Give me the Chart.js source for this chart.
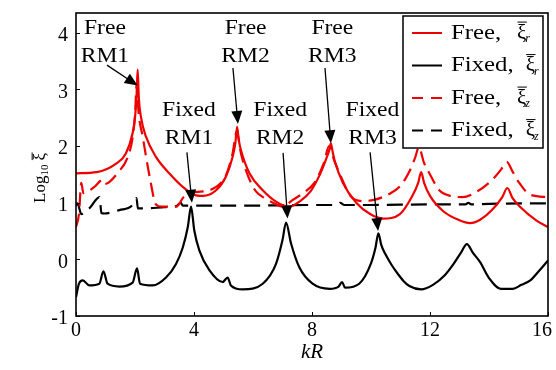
<!DOCTYPE html>
<html>
<head>
<meta charset="utf-8">
<script src="https://cdn.jsdelivr.net/npm/chart.js@4.4.1/dist/chart.umd.min.js"></script>
<style>
  html, body { margin: 0; padding: 0; background: #fff; }
  #wrap { width: 556px; height: 370px; }
</style>
</head>
<body>
<div id="wrap"><canvas id="myChart" width="556" height="370"></canvas></div>
<script>
// kR values and log10 amplitudes
var freeRx = [0, 0.7, 1.36, 1.69, 1.92, 2.0, 2.05, 2.09, 2.13, 2.2, 2.37, 2.71, 3.16, 3.62, 4.07, 4.3, 4.75, 5.08, 5.31, 5.4,
  5.46, 5.52, 5.59, 5.88, 6.33, 6.78, 7.23, 7.6, 7.95, 8.27, 8.5, 8.58, 8.64, 8.7, 8.78, 9.05, 9.5, 9.97, 10.4, 10.98,
  11.4, 11.6, 11.7, 11.8, 12.0, 12.45, 13.0, 13.35, 13.7, 14.1, 14.45, 14.62, 14.8, 15.05, 15.6, 16];
var freeRy = [1.52, 1.54, 1.69, 1.87, 2.23, 2.5, 2.85, 3.35, 2.85, 2.52, 2.17, 1.81, 1.52, 1.28, 1.13, 1.12, 1.22, 1.46, 1.81, 2.05,
  2.34, 2.1, 1.93, 1.52, 1.22, 1.02, 0.93, 1.03, 1.2, 1.5, 1.8, 1.92, 2.05, 1.9, 1.72, 1.35, 1.0, 0.8, 0.72, 0.8,
  1.12, 1.35, 1.54, 1.35, 1.12, 0.85, 0.69, 0.64, 0.7, 0.87, 1.1, 1.26, 1.08, 0.93, 0.69, 0.57];

var fixedRx = [0, 0.1, 0.23, 0.45, 0.79, 0.93, 1.07, 1.47, 1.92, 2.07, 2.17, 2.6, 3.05, 3.39, 3.62, 3.79, 3.9, 4.01, 4.18, 4.52,
  4.97, 5.14, 5.25, 5.65, 6.33, 6.78, 7.0, 7.12, 7.29, 7.57, 8.02, 8.6, 8.9, 9.02, 9.12, 9.6, 10.0, 10.15, 10.25, 10.35,
  10.5, 10.7, 10.9, 11.1, 11.3, 11.7, 12.1, 12.5, 12.8, 13.05, 13.25, 13.45, 13.7, 14.0, 14.4, 14.8, 15.1, 15.4, 15.7, 16];
var fixedRy = [-0.67, -0.43, -0.37, -0.46, -0.43, -0.21, -0.43, -0.48, -0.41, -0.16, -0.43, -0.46, -0.32, -0.08, 0.21, 0.57, 0.93, 0.51, 0.16, -0.19,
  -0.4, -0.32, -0.46, -0.53, -0.43, -0.08, 0.34, 0.65, 0.28, -0.14, -0.43, -0.52, -0.48, -0.4, -0.5, -0.43, -0.07, 0.2, 0.46, 0.25,
  0.08, -0.1, -0.25, -0.38, -0.47, -0.53, -0.45, -0.28, -0.08, 0.12, 0.27, 0.12, -0.05, -0.33, -0.52, -0.52, -0.45, -0.37, -0.2, -0.02];

var freeZx = [0, 0.1, 0.18, 0.25, 0.6, 0.9, 0.97, 1.45, 1.75, 1.92, 2.0, 2.06, 2.12, 2.26, 2.5, 2.71, 2.9, 3.4, 3.65, 3.9,
  4.3, 4.75, 5.08, 5.3, 5.45, 5.6, 5.85, 6.1, 6.4, 6.75, 7.0, 7.35, 7.7, 8.08, 8.4, 8.58, 8.75, 8.95, 9.3, 9.7,
  10.1, 10.6, 11.0, 11.3, 11.5, 11.62, 11.8, 12.0, 12.3, 12.7, 13.1, 13.6, 14.1, 14.4, 14.6, 14.8, 15.0, 15.4, 16];
var freeZy = [0.57, 0.8, 1.35, 1.17, 1.27, 1.4, 1.33, 1.55, 1.8, 2.15, 2.55, 3.1, 2.6, 2.17, 1.45, 0.97, 0.93, 0.93, 1.1, 1.18,
  1.2, 1.28, 1.48, 1.85, 2.25, 1.85, 1.45, 1.2, 1.08, 0.98, 0.93, 1.05, 1.17, 1.35, 1.7, 2.0, 1.75, 1.5, 1.12, 1.03,
  1.05, 1.15, 1.3, 1.55, 1.8, 1.98, 1.7, 1.5, 1.23, 1.12, 1.1, 1.2, 1.4, 1.58, 1.72, 1.55, 1.37, 1.14, 1.1];

var fixedZx = [0, 0.05, 0.18, 0.45, 0.8, 0.86, 0.96, 1.47, 1.9, 2.05, 2.1, 2.3, 3.0, 3.4, 3.55, 3.62, 4.0, 6.0, 8.0, 8.85,
  8.95, 9.1, 10.0, 12.0, 13.2, 13.3, 13.4, 14.0, 16];
var fixedZy = [0.95, 0.99, 0.8, 0.9, 1.1, 0.82, 0.81, 0.87, 0.95, 1.08, 0.9, 0.9, 0.92, 0.94, 1.0, 0.95, 0.95, 0.95, 0.96, 0.96,
  1.0, 0.96, 0.96, 0.97, 0.97, 1.0, 0.97, 0.98, 0.99];

var xTicks = [0, 4, 8, 12, 16];
var yTicks = [-1, 0, 1, 2, 3, 4];

var seriesNames = ['Free,', 'Fixed,', 'Free,', 'Fixed,'];
var seriesSubs = ['r', 'r', 'z', 'z'];

var annotations = [
  { lines: ['Free', 'RM1'], at: [0.98, 4.08], from: [1.05, 3.43], to: [2.09, 3.07] },
  { lines: ['Free', 'RM2'], at: [5.75, 4.08], from: [5.32, 3.38], to: [5.49, 2.39] },
  { lines: ['Free', 'RM3'], at: [8.69, 4.08], from: [8.44, 3.38], to: [8.64, 2.05] },
  { lines: ['Fixed', 'RM1'], at: [3.83, 2.62], from: [3.76, 1.89], to: [3.93, 1.0] },
  { lines: ['Fixed', 'RM2'], at: [6.92, 2.62], from: [7.02, 1.88], to: [7.17, 0.72] },
  { lines: ['Fixed', 'RM3'], at: [10.05, 2.62], from: [9.97, 1.89], to: [10.24, 0.5] }
];

var SERIF = '"Liberation Serif", "Times New Roman", serif';
var RED = '#ee0000';

function pts(xs, ys) {
  return xs.map(function (x, i) { return { x: x, y: ys[i] }; });
}

function wideText(ctx, txt, x, y, size, align) {
  ctx.save();
  ctx.font = size + 'px ' + SERIF;
  ctx.translate(x, y);
  ctx.scale(1.18, 1);
  ctx.textAlign = align;
  ctx.textBaseline = 'middle';
  ctx.fillText(txt, 0, 0);
  ctx.restore();
}

function textWidth(ctx, txt, size) {
  ctx.save();
  ctx.font = size + 'px ' + SERIF;
  var w = ctx.measureText(txt).width * 1.18;
  ctx.restore();
  return w;
}

// xi with an overbar, optional subscript; x = left edge, y = middle
function xiBar(ctx, x, y, size, sub) {
  ctx.save();
  ctx.font = size + 'px ' + SERIF;
  ctx.textAlign = 'left';
  ctx.textBaseline = 'middle';
  var w = ctx.measureText('ξ').width;
  ctx.fillText('ξ', x, y);
  ctx.lineWidth = 1;
  ctx.beginPath();
  ctx.moveTo(x + 0.5, y - size * 0.52);
  ctx.lineTo(x + w + 0.5, y - size * 0.52);
  ctx.stroke();
  if (sub) {
    ctx.font = 'italic ' + Math.round(size * 0.55) + 'px ' + SERIF;
    ctx.fillText(sub, x + w - 1, y + size * 0.3);
  }
  ctx.restore();
}

function arrow(ctx, x1, y1, x2, y2) {
  var a = Math.atan2(y2 - y1, x2 - x1), L = 13, W = 5.5;
  ctx.beginPath();
  ctx.moveTo(x1, y1);
  ctx.lineTo(x2 - L * 0.7 * Math.cos(a), y2 - L * 0.7 * Math.sin(a));
  ctx.stroke();
  ctx.beginPath();
  ctx.moveTo(x2, y2);
  ctx.lineTo(x2 - L * Math.cos(a) + W * Math.sin(a), y2 - L * Math.sin(a) - W * Math.cos(a));
  ctx.lineTo(x2 - L * Math.cos(a) - W * Math.sin(a), y2 - L * Math.sin(a) + W * Math.cos(a));
  ctx.closePath();
  ctx.fill();
}

var decorPlugin = {
  id: 'decor',
  afterDraw: function (chart) {
    var ctx = chart.ctx, a = chart.chartArea;
    var xs = chart.scales.x, ys = chart.scales.y;
    ctx.save();
    ctx.fillStyle = '#000';
    ctx.strokeStyle = '#000';

    // frame and inward ticks
    ctx.lineWidth = 1.6;
    ctx.strokeRect(a.left, a.top, a.right - a.left, a.bottom - a.top);
    ctx.lineWidth = 1;
    yTicks.forEach(function (v) {
      var p = Math.round(ys.getPixelForValue(v)) + 0.5;
      ctx.beginPath(); ctx.moveTo(a.left, p); ctx.lineTo(a.left + 4, p); ctx.stroke();
    });
    xTicks.forEach(function (v) {
      var p = Math.round(xs.getPixelForValue(v)) + 0.5;
      ctx.beginPath(); ctx.moveTo(p, a.bottom); ctx.lineTo(p, a.bottom - 4); ctx.stroke();
    });

    // x tick labels, kept inside the canvas
    ctx.font = '20px ' + SERIF;
    ctx.textAlign = 'center';
    ctx.textBaseline = 'middle';
    xTicks.forEach(function (v) {
      var t = String(v), w = ctx.measureText(t).width;
      var p = Math.min(xs.getPixelForValue(v), chart.width - 4 - w / 2);
      ctx.fillText(t, p, a.bottom + 15);
    });

    // annotations
    ctx.lineWidth = 1.3;
    annotations.forEach(function (an) {
      var tx = xs.getPixelForValue(an.at[0]), ty = ys.getPixelForValue(an.at[1]);
      an.lines.forEach(function (ln, i) {
        wideText(ctx, ln, tx, ty + i * 28, 20, 'center');
      });
      arrow(ctx, xs.getPixelForValue(an.from[0]), ys.getPixelForValue(an.from[1]),
        xs.getPixelForValue(an.to[0]), ys.getPixelForValue(an.to[1]));
    });

    // legend
    var bx = a.right - 5, by = a.top + 3, bw = 140, bh = 132;
    ctx.fillStyle = '#fff';
    ctx.fillRect(bx - bw, by, bw, bh);
    ctx.lineWidth = 1.5;
    ctx.strokeRect(bx - bw, by, bw, bh);
    ctx.fillStyle = '#000';
    chart.data.datasets.forEach(function (ds, i) {
      var ry = by + 17 + i * 32.5;
      var lx = bx - bw + 9;
      ctx.save();
      ctx.strokeStyle = ds.borderColor;
      ctx.lineWidth = 2;
      ctx.setLineDash(ds.borderDash && ds.borderDash.length ? [11, 8] : []);
      ctx.beginPath(); ctx.moveTo(lx, ry); ctx.lineTo(lx + 30, ry); ctx.stroke();
      ctx.restore();
      wideText(ctx, seriesNames[i], lx + 39, ry, 21, 'left');
      var end = lx + 39 + textWidth(ctx, seriesNames[i], 21);
      xiBar(ctx, Math.max(end + 12, bx - bw + 114), ry, 21, seriesSubs[i]);
    });

    // y axis title
    ctx.save();
    ctx.translate(41, 178);
    ctx.rotate(-Math.PI / 2);
    ctx.font = '17px ' + SERIF;
    ctx.textBaseline = 'middle';
    ctx.textAlign = 'left';
    var w1 = ctx.measureText('Log').width;
    ctx.font = '11px ' + SERIF;
    var w2 = ctx.measureText('10').width;
    ctx.font = '17px ' + SERIF;
    var w3 = ctx.measureText('ξ').width;
    var x0 = -(w1 + w2 + 4 + w3) / 2;
    ctx.fillText('Log', x0, 0);
    ctx.font = '11px ' + SERIF;
    ctx.fillText('10', x0 + w1, 4);
    xiBar(ctx, x0 + w1 + w2 + 4, 0, 17, '');
    ctx.restore();

    ctx.restore();
  }
};

function lineSet(label, xs, ys, color, dash) {
  return {
    label: label,
    data: pts(xs, ys),
    borderColor: color,
    borderWidth: 2.2,
    borderDash: dash,
    pointRadius: 0,
    fill: false,
    cubicInterpolationMode: 'monotone'
  };
}

var ctx = document.getElementById('myChart').getContext('2d');
var chart = new Chart(ctx, {
  type: 'line',
  data: {
    datasets: [
      lineSet('Free, ξr', freeRx, freeRy, RED, []),
      lineSet('Fixed, ξr', fixedRx, fixedRy, '#000', []),
      lineSet('Free, ξz', freeZx, freeZy, RED, [14, 7]),
      lineSet('Fixed, ξz', fixedZx, fixedZy, '#000', [16, 8])
    ]
  },
  options: {
    responsive: false,
    animation: false,
    layout: { padding: { left: 0, right: 8, top: 13, bottom: 0 } },
    plugins: { legend: { display: false }, tooltip: { enabled: false } },
    scales: {
      x: {
        type: 'linear',
        min: 0, max: 16,
        afterFit: function (s) { s.height = 54; s.paddingLeft = 0; s.paddingRight = 0; },
        border: { display: false },
        grid: { display: false, drawTicks: false },
        ticks: { stepSize: 4, includeBounds: false, display: false },
        title: {
          display: true, text: 'kR', color: '#000',
          font: { family: SERIF, size: 21, style: 'italic' },
          padding: { top: 0, bottom: 5 }
        }
      },
      y: {
        min: -1, max: 4.35,
        afterFit: function (s) { s.width = 76; s.paddingTop = 0; s.paddingBottom = 0; },
        border: { display: false },
        grid: { display: false, drawTicks: false },
        ticks: {
          stepSize: 1, includeBounds: false, padding: 8, labelOffset: 3, color: '#000',
          font: { family: SERIF, size: 20 }
        }
      }
    }
  },
  plugins: [decorPlugin]
});
</script>
</body>
</html>
